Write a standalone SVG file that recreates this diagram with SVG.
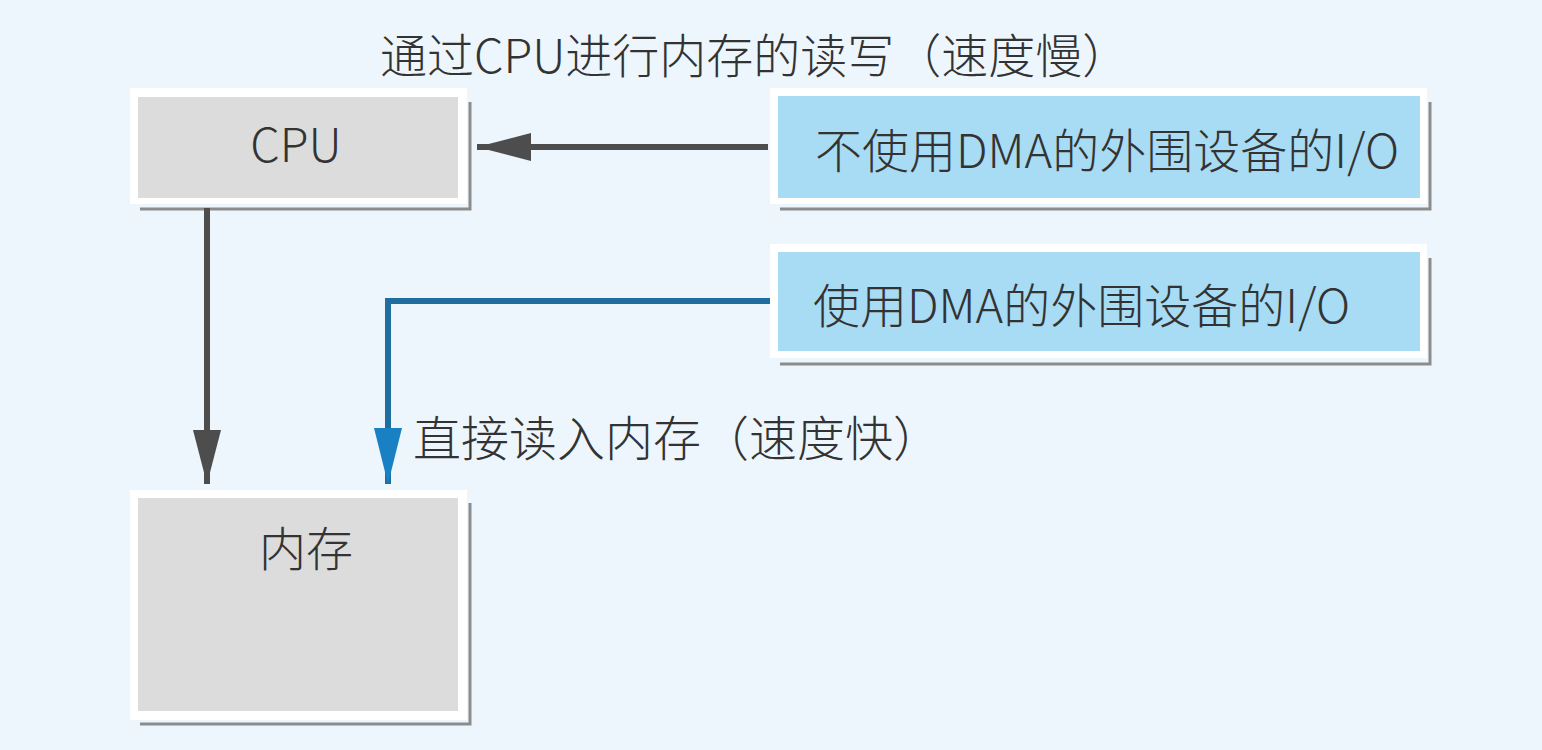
<svg xmlns="http://www.w3.org/2000/svg" width="1542" height="750" viewBox="0 0 1542 750">
  <style>
    .t { font-family: "Noto Sans CJK SC", "Liberation Sans", sans-serif; font-weight: 300; fill: #333333; }
    .frame { fill: #ffffff; }
    .gray { fill: #dcdcdc; }
    .blue { fill: #a8dbf4; }
    .shadow { fill: none; stroke: #8c8c8c; stroke-width: 3; }
    .conn-gray { fill: none; stroke: #4d4d4d; stroke-width: 6; }
    .conn-blue { fill: none; stroke: #1e6e9f; stroke-width: 6; }
  </style>
  <defs>
    <marker id="ahGray" viewBox="0 0 54 28" refX="54" refY="14" markerWidth="54" markerHeight="28" markerUnits="userSpaceOnUse" orient="auto">
      <path d="M0,0 L54,14 L0,28 z" fill="#4d4d4d"/>
    </marker>
    <marker id="ahBlue" viewBox="0 0 56 28" refX="56" refY="14" markerWidth="56" markerHeight="28" markerUnits="userSpaceOnUse" orient="auto">
      <path d="M0,0 L56,14 L0,28 z" fill="#1a80c4"/>
    </marker>
  </defs>
  <rect width="1542" height="750" fill="#edf6fc"/>

  <text class="t" x="380" y="73" font-size="47">通过CPU进行内存的读写（速度慢）</text>

  <g id="cpu">
    <rect class="frame" x="130" y="88" width="337" height="116"/>
    <rect class="gray" x="138" y="97" width="320" height="101"/>
    <polyline class="shadow" points="470,102 470,209 140,209"/>
    <text class="t" x="296" y="162" font-size="47" text-anchor="middle">CPU</text>
  </g>

  <g id="memory">
    <rect class="frame" x="130" y="490" width="337" height="230"/>
    <rect class="gray" x="138" y="498" width="320" height="213"/>
    <polyline class="shadow" points="470,503 470,724 140,724"/>
    <text class="t" x="306" y="566" font-size="47" text-anchor="middle">内存</text>
  </g>

  <g id="io-no-dma">
    <rect class="frame" x="770" y="88" width="657" height="116"/>
    <rect class="blue" x="778" y="96" width="642" height="102"/>
    <polyline class="shadow" points="1430,102 1430,209 780,209"/>
    <text class="t" x="815" y="168" font-size="47">不使用DMA的外围设备的I/O</text>
  </g>

  <g id="io-dma">
    <rect class="frame" x="770" y="244" width="657" height="114"/>
    <rect class="blue" x="778" y="252" width="642" height="99"/>
    <polyline class="shadow" points="1430,258 1430,364 780,364"/>
    <text class="t" x="813" y="323" font-size="47">使用DMA的外围设备的I/O</text>
  </g>

  <g id="connectors">
    <line class="conn-gray" x1="768" y1="147" x2="477" y2="147" marker-end="url(#ahGray)"/>
    <line class="conn-gray" x1="207" y1="208" x2="207" y2="484" marker-end="url(#ahGray)"/>
    <polyline class="conn-blue" points="770,301 388,301 388,484" marker-end="url(#ahBlue)"/>
  </g>

  <text class="t" x="413" y="456" font-size="48">直接读入内存（速度快）</text>
</svg>
